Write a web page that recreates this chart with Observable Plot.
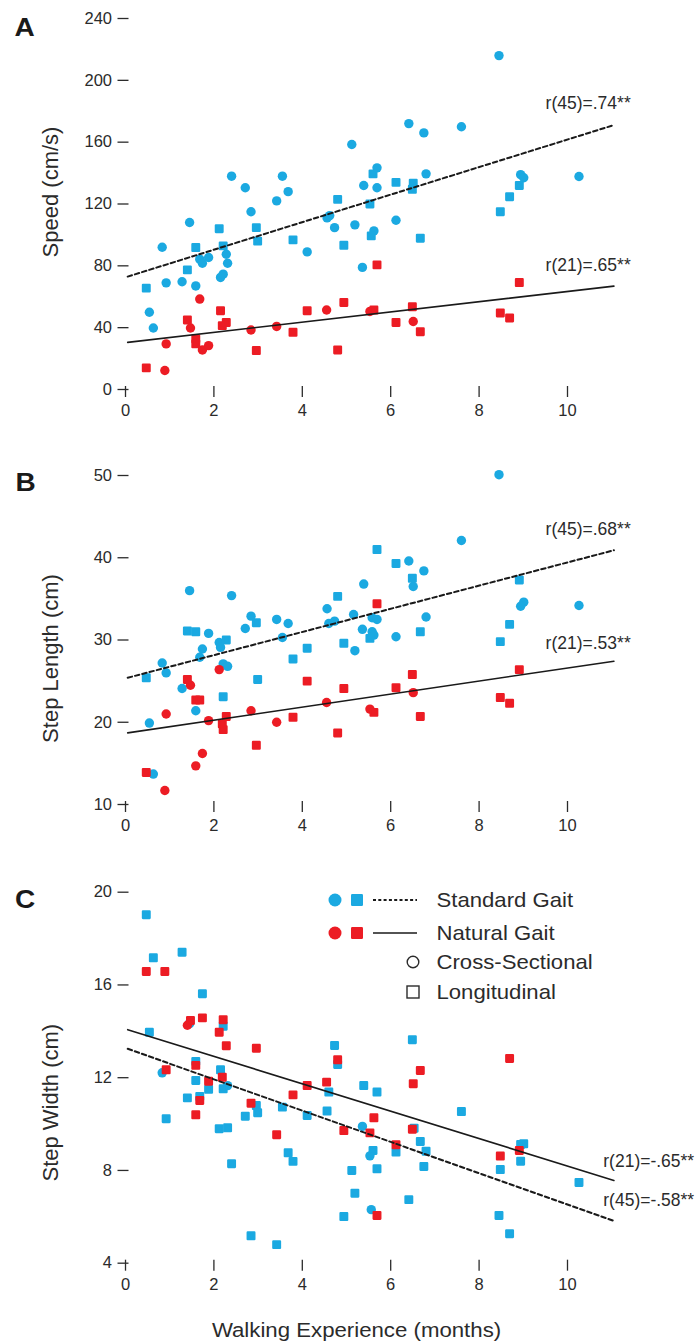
<!DOCTYPE html>
<html>
<head>
<meta charset="utf-8">
<script src="https://cdn.jsdelivr.net/npm/d3@7"></script>
<script src="https://cdn.jsdelivr.net/npm/@observablehq/plot@0.6"></script>
<style>
  html, body { margin: 0; padding: 0; background: #fff; }
  #root { position: relative; width: 700px; height: 1344px; overflow: hidden; }
  .panel { position: absolute; left: 0; }
  #overlay { position: absolute; left: 0; top: 0; pointer-events: none; }
</style>
</head>
<body>
<div id="root"></div>
<script>
// ---------- data ----------
const xTicks = [0, 2, 4, 6, 8, 10];
const speedTicks = [0, 40, 80, 120, 160, 200, 240];
const lengthTicks = [10, 20, 30, 40, 50];
const widthTicks = [4, 8, 12, 16, 20];

// [walking experience (months), value, shape: "c" cross-sectional / "s" longitudinal]
const speedStandard = [
  [0.47,65.6,"s"],[0.54,50,"c"],[0.63,39.8,"c"],[0.83,92,"c"],[0.92,69,"c"],[1.28,69.7,"c"],
  [1.40,77.4,"s"],[1.45,108,"c"],[1.59,91.8,"s"],[1.59,67,"c"],[1.68,84.3,"c"],[1.74,81.7,"c"],
  [1.88,85.4,"c"],[2.12,104,"s"],[2.15,72.5,"c"],[2.21,74.6,"c"],[2.21,92.9,"s"],[2.28,87.5,"c"],
  [2.31,81.7,"c"],[2.40,138,"c"],[2.71,130.5,"c"],[2.84,115,"c"],[2.96,104.7,"s"],[2.99,96,"s"],
  [3.42,122,"c"],[3.55,138,"c"],[3.68,128,"c"],[3.79,96.8,"s"],[4.11,89,"c"],[4.56,111,"c"],
  [4.62,112.5,"c"],[4.73,104.7,"c"],[4.80,123,"s"],[4.94,93.3,"s"],[5.12,158.5,"c"],
  [8.45,216,"c"],[6.41,172,"c"],[6.75,166,"c"],[7.60,170,"c"],[5.69,143.4,"c"],[5.60,139.5,"s"],
  [5.39,132,"c"],[5.69,130.5,"c"],[6.12,134,"s"],[6.51,133.5,"s"],[6.49,129.5,"s"],[6.80,139.5,"c"],
  [5.53,120,"s"],[5.19,106.5,"c"],[5.62,102.6,"c"],[5.56,99.4,"s"],[6.12,109.5,"c"],[5.36,79,"c"],
  [6.67,97.9,"s"],[8.94,139,"c"],[9.01,137,"c"],[8.91,132,"s"],[8.69,124.7,"s"],[8.48,115,"s"],
  [10.26,137.8,"c"]
];
const speedNatural = [
  [0.47,14,"s"],[0.89,12.3,"c"],[0.92,29.5,"c"],[1.40,45,"s"],[1.47,39.8,"c"],[1.59,32.7,"s"],
  [1.59,29.5,"s"],[1.68,58.5,"c"],[1.74,25.6,"c"],[1.88,28.4,"c"],[2.15,51,"s"],[2.19,41.3,"s"],
  [2.28,43.4,"s"],[2.84,38.5,"c"],[2.96,25.2,"s"],[3.42,40.8,"c"],[3.79,37,"s"],[4.11,51,"s"],
  [4.55,51.4,"c"],[4.94,56.3,"s"],[4.80,25.6,"s"],[5.69,80.6,"s"],[5.53,50.5,"c"],[5.62,51.4,"s"],
  [6.49,53.5,"s"],[6.12,43.4,"s"],[6.51,44,"c"],[6.67,37.4,"s"],[8.48,49.5,"s"],[8.69,46.3,"s"],
  [8.91,69.2,"s"]
];
const lengthStandard = [
  [0.47,25.4,"s"],[0.54,19.9,"c"],[0.63,13.7,"c"],[0.83,27.2,"c"],[0.92,26,"c"],[1.28,24.1,"c"],
  [1.45,36,"c"],[1.40,31.1,"s"],[1.59,31,"s"],[1.59,21.4,"c"],[1.74,28.9,"c"],[1.68,27.9,"c"],
  [1.88,30.8,"c"],[2.12,29.7,"c"],[2.15,29.1,"c"],[2.28,30,"s"],[2.21,27.1,"c"],[2.31,26.8,"c"],
  [2.21,23.1,"s"],[2.40,35.4,"c"],[2.71,31.4,"c"],[2.84,32.9,"c"],[2.96,32.1,"s"],[2.99,25.2,"s"],
  [3.42,32.5,"c"],[3.55,30.3,"c"],[3.68,32,"c"],[3.79,27.7,"s"],[4.11,29,"s"],[4.56,33.8,"c"],
  [4.60,32,"c"],[4.73,32.3,"c"],[4.80,35.3,"s"],[4.94,29.6,"s"],
  [8.45,50.1,"c"],[7.60,42.1,"c"],[5.69,41,"s"],[6.12,39.3,"s"],[6.41,39.6,"c"],[6.75,38.4,"c"],
  [6.49,37.5,"s"],[6.51,36.5,"c"],[5.39,36.8,"c"],[5.16,33.1,"c"],[5.58,32.7,"c"],[5.69,32.5,"c"],
  [6.80,32.8,"c"],[5.36,31.3,"c"],[5.58,31,"c"],[5.62,30.6,"c"],[5.53,30.2,"s"],[6.12,30.4,"c"],
  [6.67,31,"s"],[5.19,28.7,"c"],[8.91,37.3,"s"],[9.01,34.6,"c"],[8.94,34.1,"c"],[8.69,31.9,"s"],
  [8.48,29.8,"s"],[10.26,34.2,"c"]
];
const lengthNatural = [
  [0.47,13.9,"s"],[0.92,21,"c"],[0.89,11.7,"c"],[1.40,25.2,"s"],[1.47,24.5,"c"],[1.59,22.7,"s"],
  [1.68,22.7,"s"],[1.59,14.7,"c"],[1.74,16.2,"c"],[1.88,20.2,"c"],[2.12,26.4,"c"],[2.19,19.8,"s"],
  [2.21,19.1,"s"],[2.28,20.7,"s"],[2.84,21.4,"c"],[2.96,17.2,"s"],[3.42,20,"c"],[3.79,20.6,"s"],
  [4.11,25,"s"],[4.55,22.4,"c"],[4.80,18.7,"s"],[4.94,24.1,"s"],[5.69,34.4,"s"],[5.53,21.6,"c"],
  [5.62,21.2,"s"],[6.49,25.8,"s"],[6.12,24.2,"s"],[6.51,23.6,"c"],[6.67,20.7,"s"],[8.48,23,"s"],
  [8.69,22.3,"s"],[8.91,26.4,"s"]
];
const widthStandard = [
  [0.47,19.03,"s"],[0.63,17.17,"s"],[1.28,17.41,"s"],[0.54,13.96,"s"],[0.83,12.21,"c"],[0.92,10.23,"s"],
  [1.74,15.62,"s"],[1.45,14.33,"c"],[1.59,12.7,"s"],[1.59,11.88,"s"],[1.68,11.19,"s"],[1.88,11.5,"s"],
  [1.40,11.13,"s"],[2.21,14.22,"s"],[2.15,12.34,"s"],[2.21,11.52,"s"],[2.31,11.66,"c"],[2.12,9.8,"s"],
  [2.31,9.84,"s"],[2.40,8.29,"s"],[2.71,10.34,"s"],[2.96,10.8,"s"],[2.99,10.49,"s"],[2.84,5.18,"s"],
  [3.42,4.8,"s"],[3.55,10.73,"s"],[3.68,8.76,"s"],[3.79,8.39,"s"],[4.11,10.37,"s"],[4.56,10.56,"s"],
  [4.60,11.38,"s"],[4.73,13.39,"s"],[4.80,12.57,"s"],[4.94,6.01,"s"],[5.12,8.0,"s"],
  [5.39,11.66,"s"],[5.69,11.38,"s"],[6.49,13.64,"s"],[7.60,10.54,"s"],[5.36,9.9,"c"],[6.53,9.82,"s"],
  [6.67,9.25,"s"],[6.80,8.83,"s"],[6.12,8.79,"s"],[5.60,8.86,"s"],[5.53,8.63,"c"],[5.69,8.07,"s"],
  [6.75,8.17,"s"],[5.19,7.02,"s"],[6.41,6.74,"s"],[5.56,6.31,"c"],[9.01,9.15,"s"],[8.94,9.12,"s"],
  [8.94,8.4,"s"],[8.48,8.04,"s"],[8.45,6.06,"s"],[8.69,5.27,"s"],[10.26,7.48,"s"]
];
const widthNatural = [
  [0.47,16.58,"s"],[0.89,16.58,"s"],[0.92,12.34,"s"],[1.40,14.26,"c"],[1.47,14.47,"s"],[1.74,14.58,"s"],
  [1.59,12.53,"s"],[1.88,11.85,"s"],[1.68,11.02,"s"],[1.59,10.4,"s"],[2.21,14.5,"s"],[2.12,13.96,"s"],
  [2.28,13.38,"s"],[2.19,12.02,"s"],[2.96,13.27,"s"],[2.84,10.9,"s"],[3.42,9.54,"s"],[3.79,11.26,"s"],
  [4.11,11.66,"s"],[4.55,11.81,"s"],[4.80,12.77,"s"],[4.94,9.72,"s"],[5.53,9.62,"s"],[5.62,10.27,"s"],
  [6.12,9.11,"s"],[6.49,9.78,"s"],[6.51,11.74,"s"],[6.67,12.31,"s"],[5.69,6.06,"s"],[8.69,12.83,"s"],
  [8.48,8.62,"s"],[8.91,8.86,"s"]
];

// fitted regression lines as drawn: [intercept, slope]
const fitRange = [0.05, 11.05];
const fitSpeedStandard = [72.6, 8.91];
const fitSpeedNatural = [30.3, 3.31];
const fitLengthStandard = [25.34, 1.409];
const fitLengthNatural = [18.67, 0.792];
const fitWidthStandard = [13.28, -0.675];
const fitWidthNatural = [14.10, -0.591];

// correlation annotations
const notesSpeed = [
  {text: "r(45)=.74**", x: 11.43, y: 185.4},
  {text: "r(21)=.65**", x: 11.43, y: 80}
];
const notesLength = [
  {text: "r(45)=.68**", x: 11.43, y: 43.5},
  {text: "r(21)=.53**", x: 11.43, y: 29.6}
];
const notesWidth = [
  {text: "r(21)=-.65**", x: 10.81, y: 8.39},
  {text: "r(45)=-.58**", x: 10.81, y: 6.7}
];

// ---------- drawing ----------
const BLUE = "#1ba9e1";
const RED = "#ec1c24";
const INK = "#2b2b2b";
const FONT = '"Liberation Sans", Arial, Helvetica, sans-serif';

const pts = arr => arr.map(([x, y, s]) => ({x, y, shape: s}));
const fitLine = ([a, b]) => fitRange.map(x => ({x, y: a + b * x}));

function dots(arr, color) {
  const p = pts(arr);
  return [
    Plot.dot(p.filter(d => d.shape === "c"), {x: "x", y: "y", r: 4.7, symbol: "circle", fill: color}),
    Plot.dot(p.filter(d => d.shape === "s"), {x: "x", y: "y", r: 3.8, symbol: "square", fill: color,
      stroke: color, strokeWidth: 2.2, strokeLinejoin: "round"})
  ];
}

function panel(cfg) {
  return Plot.plot({
    width: 700,
    height: cfg.height,
    marginLeft: 125,
    marginRight: 88.8,
    marginTop: cfg.marginTop,
    marginBottom: 40,
    x: {domain: [0, 11]},
    y: {domain: cfg.yDomain},
    style: {fontFamily: FONT, fontSize: "16.5px", color: INK, background: "transparent", overflow: "visible"},
    marks: [
      Plot.axisX({ticks: xTicks, tickSize: 11, tickPadding: 7, dy: -3, label: null, strokeWidth: 1.3}),
      Plot.axisY({ticks: cfg.yTicks, tickSize: 11, tickPadding: 6, dx: 3.5, label: null, strokeWidth: 1.3}),
      ...dots(cfg.std, BLUE),
      ...dots(cfg.nat, RED),
      Plot.line(fitLine(cfg.fitStd), {x: "x", y: "y", stroke: "#1a1a1a", strokeWidth: 2, strokeDasharray: "4.5,3"}),
      Plot.line(fitLine(cfg.fitNat), {x: "x", y: "y", stroke: "#1a1a1a", strokeWidth: 1.6}),
      Plot.text(cfg.notes, {x: "x", y: "y", text: "text", textAnchor: cfg.anchor, fontSize: 17.5, fill: INK})
    ]
  });
}

const root = document.getElementById("root");
function place(svg, top) {
  const div = document.createElement("div");
  div.className = "panel";
  div.style.top = top + "px";
  div.appendChild(svg);
  root.appendChild(div);
}

place(panel({height: 429, marginTop: 18, yDomain: [0, 240], yTicks: speedTicks,
  std: speedStandard, nat: speedNatural, fitStd: fitSpeedStandard, fitNat: fitSpeedNatural,
  notes: notesSpeed, anchor: "end"}), 0);
place(panel({height: 404, marginTop: 35, yDomain: [10, 50], yTicks: lengthTicks,
  std: lengthStandard, nat: lengthNatural, fitStd: fitLengthStandard, fitNat: fitLengthNatural,
  notes: notesLength, anchor: "end"}), 440);
place(panel({height: 442.7, marginTop: 31.7, yDomain: [4, 20], yTicks: widthTicks,
  std: widthStandard, nat: widthNatural, fitStd: fitWidthStandard, fitNat: fitWidthNatural,
  notes: notesWidth, anchor: "start"}), 860);

// ---------- overlay: panel letters, axis titles, legend ----------
const panelLetters = [{t: "A", x: 24.7, y: 27.5}, {t: "B", x: 25.5, y: 482.5}, {t: "C", x: 25, y: 900}];
const yTitles = [{t: "Speed (cm/s)", x: 50, y: 192}, {t: "Step Length (cm)", x: 50.5, y: 658.5}, {t: "Step Width (cm)", x: 50.5, y: 1102.7}];
const xTitle = "Walking Experience (months)";
const legendItems = ["Standard Gait", "Natural Gait", "Cross-Sectional", "Longitudinal"];

const NS = "http://www.w3.org/2000/svg";
const ov = document.createElementNS(NS, "svg");
ov.setAttribute("id", "overlay");
ov.setAttribute("width", 700);
ov.setAttribute("height", 1344);
ov.setAttribute("font-family", FONT);
root.appendChild(ov);
function el(tag, attrs, text) {
  const e = document.createElementNS(NS, tag);
  for (const k in attrs) e.setAttribute(k, attrs[k]);
  if (text != null) e.textContent = text;
  ov.appendChild(e);
  return e;
}
panelLetters.forEach(d => el("text", {transform: `translate(${d.x},${d.y}) scale(1.12,1)`, "text-anchor": "middle",
  "dominant-baseline": "central", "font-size": 25, "font-weight": "bold", fill: "#1a1a1a"}, d.t));
yTitles.forEach(d => el("text", {transform: `translate(${d.x},${d.y}) rotate(-90)`, "text-anchor": "middle",
  "dominant-baseline": "central", "font-size": 22, fill: INK}, d.t));
el("text", {transform: "translate(356.5,1330) scale(1.14,1)", "text-anchor": "middle", "dominant-baseline": "central",
  "font-size": 19.5, fill: INK}, xTitle);

// legend
const rows = [900, 933, 962, 992];
el("circle", {cx: 335, cy: rows[0], r: 6.5, fill: BLUE});
el("rect", {x: 351, y: rows[0] - 6, width: 12, height: 12, rx: 1.2, fill: BLUE});
el("line", {x1: 373, x2: 417, y1: rows[0], y2: rows[0], stroke: "#1a1a1a", "stroke-width": 1.8, "stroke-dasharray": "3,2.3"});
el("circle", {cx: 335, cy: rows[1], r: 6.5, fill: RED});
el("rect", {x: 351, y: rows[1] - 6, width: 12, height: 12, rx: 1.2, fill: RED});
el("line", {x1: 373, x2: 417, y1: rows[1], y2: rows[1], stroke: "#1a1a1a", "stroke-width": 1.6});
el("circle", {cx: 413, cy: rows[2], r: 5.8, fill: "none", stroke: INK, "stroke-width": 1.4});
el("rect", {x: 407, y: rows[3] - 6, width: 12, height: 12, fill: "none", stroke: INK, "stroke-width": 1.4});
legendItems.forEach((t, i) => el("text", {transform: `translate(436.5,${rows[i]}) scale(1.08,1)`,
  "dominant-baseline": "central", "font-size": 20.5, fill: INK}, t));
</script>
</body>
</html>
